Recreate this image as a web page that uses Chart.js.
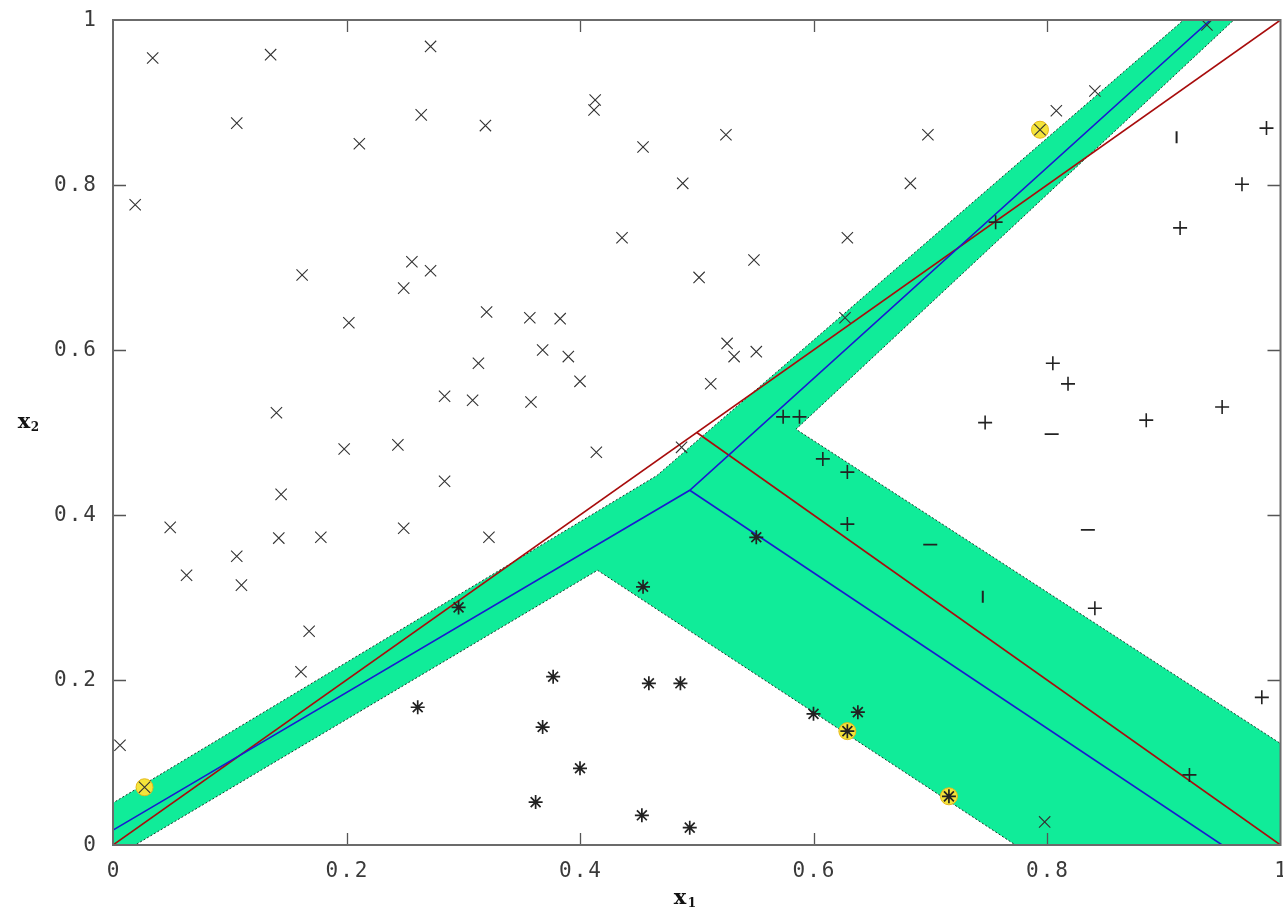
<!DOCTYPE html>
<html>
<head>
<meta charset="utf-8">
<script src="https://cdn.jsdelivr.net/npm/chart.js@4.4.1/dist/chart.umd.min.js"></script>
<style>
  html, body { margin: 0; padding: 0; background: #fff; overflow: hidden; }
  #wrap { position: relative; width: 1290px; height: 907px; }
</style>
</head>
<body>
<div id="wrap"><canvas id="chart" width="1290" height="907"></canvas></div>
<script>
/* ── axis ticks ── */
const tickValues = [0, 0.2, 0.4, 0.6, 0.8, 1];
const tickLabels = ['0', '0.2', '0.4', '0.6', '0.8', '1'];

/* ── class 1 : "x" markers ── */
const crossX = [0.034, 0.135, 0.272, 0.413, 0.412, 0.106, 0.264, 0.319, 0.211, 0.019,
  0.162, 0.256, 0.249, 0.272, 0.202, 0.320, 0.357, 0.383, 0.368, 0.390,
  0.313, 0.400, 0.358, 0.284, 0.308, 0.140, 0.049, 0.063, 0.106, 0.110,
  0.144, 0.178, 0.198, 0.244, 0.249, 0.284, 0.322, 0.142, 0.168, 0.161,
  0.006, 0.414, 0.502, 0.454, 0.436, 0.488, 0.525, 0.549, 0.526, 0.532,
  0.551, 0.512, 0.487, 0.937, 0.841, 0.808, 0.698, 0.683, 0.629, 0.627,
  0.798, 0.027, 0.794];
const crossY = [0.954, 0.958, 0.968, 0.903, 0.891, 0.875, 0.885, 0.872, 0.850, 0.776,
  0.691, 0.707, 0.675, 0.696, 0.633, 0.646, 0.639, 0.638, 0.600, 0.592,
  0.584, 0.562, 0.537, 0.544, 0.539, 0.524, 0.385, 0.327, 0.350, 0.315,
  0.425, 0.373, 0.480, 0.485, 0.384, 0.441, 0.373, 0.372, 0.259, 0.210,
  0.121, 0.476, 0.688, 0.846, 0.736, 0.802, 0.861, 0.709, 0.608, 0.592,
  0.598, 0.559, 0.482, 0.994, 0.914, 0.890, 0.861, 0.802, 0.736, 0.639,
  0.028, 0.070, 0.867];

/* ── class 2 : "+" markers (some only show one stroke in the picture) ── */
const plusX = [0.629, 0.629, 0.608, 0.574, 0.588, 0.747, 0.885, 0.950, 0.805,
  0.818, 0.841, 0.984, 0.922, 0.988, 0.967, 0.914, 0.756];
const plusY = [0.389, 0.452, 0.468, 0.519, 0.519, 0.512, 0.515, 0.531, 0.584,
  0.559, 0.287, 0.179, 0.085, 0.869, 0.801, 0.748, 0.755];
const dashX = [0.804, 0.835, 0.700];
const dashY = [0.498, 0.382, 0.364];
const barX = [0.911, 0.745];
const barY = [0.858, 0.301];

/* ── class 3 : "*" markers ── */
const starX = [0.377, 0.368, 0.400, 0.362, 0.453, 0.494, 0.459, 0.486, 0.261, 0.296,
  0.454, 0.551, 0.600, 0.638, 0.629, 0.716];
const starY = [0.204, 0.143, 0.093, 0.052, 0.036, 0.021, 0.196, 0.196, 0.167, 0.288,
  0.313, 0.373, 0.159, 0.161, 0.138, 0.059];

/* ── highlighted (support) points ── */
const svX = [0.027, 0.794, 0.629, 0.716];
const svY = [0.070, 0.867, 0.138, 0.059];

/* ── margin band outline (green) ── */
const bandX = [0, 0.019, 0.415, 0.773, 1, 1, 0.585, 0.960, 0.917, 0.466, 0];
const bandY = [0, 0, 0.333, 0, 0, 0.123, 0.504, 1, 1, 0.448, 0.051];

/* ── learned boundary (blue) ── */
const blueX = [0, 0.494, 0.940];
const blueY = [0.018, 0.430, 1];
const blue2X = [0.494, 0.950];
const blue2Y = [0.430, 0];

/* ── true boundary (red) ── */
const redX = [0, 1];
const redY = [0, 1];
const red2X = [0.5, 1];
const red2Y = [0.5, 0];

const pts = (xs, ys) => xs.map((x, i) => ({ x, y: ys[i] }));

const LEFT = 113, TOP = 20, RIGHT = 1287, BOTTOM = 845;

// frame, inner ticks, tick labels and axis titles
const frame = {
  id: 'frame',
  afterDatasetsDraw(chart) {
    const { ctx, chartArea: a, scales: { x, y } } = chart;
    ctx.save();
    ctx.strokeStyle = '#555';
    ctx.lineWidth = 1.3;
    ctx.beginPath();
    tickValues.forEach(v => {
      const px = Math.round(x.getPixelForValue(v)) + 0.5;
      const py = Math.round(y.getPixelForValue(v)) + 0.5;
      if (v > 0 && v < 1) {
        ctx.moveTo(px, a.bottom); ctx.lineTo(px, a.bottom - 12);
        ctx.moveTo(px, a.top); ctx.lineTo(px, a.top + 12);
        ctx.moveTo(a.left, py); ctx.lineTo(a.left + 13, py);
        ctx.moveTo(a.right, py); ctx.lineTo(a.right - 13, py);
      }
    });
    ctx.stroke();
    ctx.strokeStyle = '#6b6b6b';
    ctx.lineWidth = 2;
    ctx.strokeRect(a.left, a.top, a.right - a.left, a.bottom - a.top);

    ctx.fillStyle = '#3a3a3a';
    ctx.font = '21px "DejaVu Sans Mono"';
    if ('letterSpacing' in ctx) ctx.letterSpacing = '2px';
    ctx.textBaseline = 'middle';
    ctx.textAlign = 'center';
    tickValues.forEach((v, i) => ctx.fillText(tickLabels[i], x.getPixelForValue(v) + 1, 872));
    ctx.textAlign = 'right';
    tickValues.forEach((v, i) => ctx.fillText(tickLabels[i], 98, y.getPixelForValue(v) + 1));
    if ('letterSpacing' in ctx) ctx.letterSpacing = '0px';

    ctx.fillStyle = '#111';
    ctx.textAlign = 'center';
    ctx.textBaseline = 'alphabetic';
    ctx.font = 'bold 21px "DejaVu Serif"';
    ctx.fillText('x', 680, 904);
    ctx.fillText('x', 24, 428);
    ctx.font = 'bold 12px "DejaVu Serif"';
    ctx.fillText('1', 692, 907);
    ctx.fillText('2', 35, 431);
    ctx.restore();
  }
};

const markerBase = { showLine: false, pointBorderColor: '#222', pointBackgroundColor: '#222', order: 1 };
const lineBase = { pointRadius: 0, fill: false, borderWidth: 1.6, order: 5 };

new Chart(document.getElementById('chart'), {
  type: 'line',
  data: {
    datasets: [
      { ...markerBase, label: 'x', data: pts(crossX, crossY), pointStyle: 'crossRot',
        pointRadius: 8, pointBorderWidth: 1.1, pointBorderColor: '#333' },
      { ...markerBase, label: '+', data: pts(plusX, plusY), pointStyle: 'cross',
        pointRadius: 7, pointBorderWidth: 1.6 },
      { ...markerBase, label: '-', data: pts(dashX, dashY), pointStyle: 'line',
        pointRadius: 7, pointBorderWidth: 1.8 },
      { ...markerBase, label: '|', data: pts(barX, barY), pointStyle: 'line', pointRotation: 90,
        pointRadius: 6, pointBorderWidth: 2 },
      { ...markerBase, label: '*', data: pts(starX, starY), pointStyle: 'star',
        pointRadius: 7, pointBorderWidth: 1.7 },
      { showLine: false, label: 'sv', data: pts(svX, svY), pointStyle: 'circle', pointRadius: 8.5,
        pointBackgroundColor: '#f4e43a', pointBorderColor: '#e6b81c', pointBorderWidth: 1, order: 3 },
      { ...lineBase, label: 'blue', data: pts(blueX, blueY), borderColor: '#1a1ad0' },
      { ...lineBase, label: 'blue2', data: pts(blue2X, blue2Y), borderColor: '#1a1ad0' },
      { ...lineBase, label: 'red', data: pts(redX, redY), borderColor: '#a80c0c' },
      { ...lineBase, label: 'red2', data: pts(red2X, red2Y), borderColor: '#a80c0c' },
      { label: 'band', data: pts(bandX, bandY), borderColor: '#1c3a2c', borderWidth: 1,
        borderDash: [2, 2], backgroundColor: '#10ec99', fill: 'shape', pointRadius: 0, order: 10 }
    ]
  },
  options: {
    responsive: false,
    animation: false,
    events: [],
    layout: { padding: { left: 0, top: TOP, right: 1290 - RIGHT, bottom: 0 } },
    elements: { line: { tension: 0 } },
    plugins: { legend: { display: false }, tooltip: { enabled: false } },
    scales: {
      x: {
        type: 'linear', min: 0, max: 1,
        afterFit: s => { s.height = 907 - BOTTOM; s.paddingLeft = 0; s.paddingRight = 0; },
        grid: { display: false, drawTicks: false },
        border: { display: false },
        ticks: { display: false }
      },
      y: {
        type: 'linear', min: 0, max: 1,
        afterFit: s => { s.width = LEFT; s.paddingTop = 0; s.paddingBottom = 0; },
        grid: { display: false, drawTicks: false },
        border: { display: false },
        ticks: { display: false }
      }
    }
  },
  plugins: [frame]
});
</script>
</body>
</html>
